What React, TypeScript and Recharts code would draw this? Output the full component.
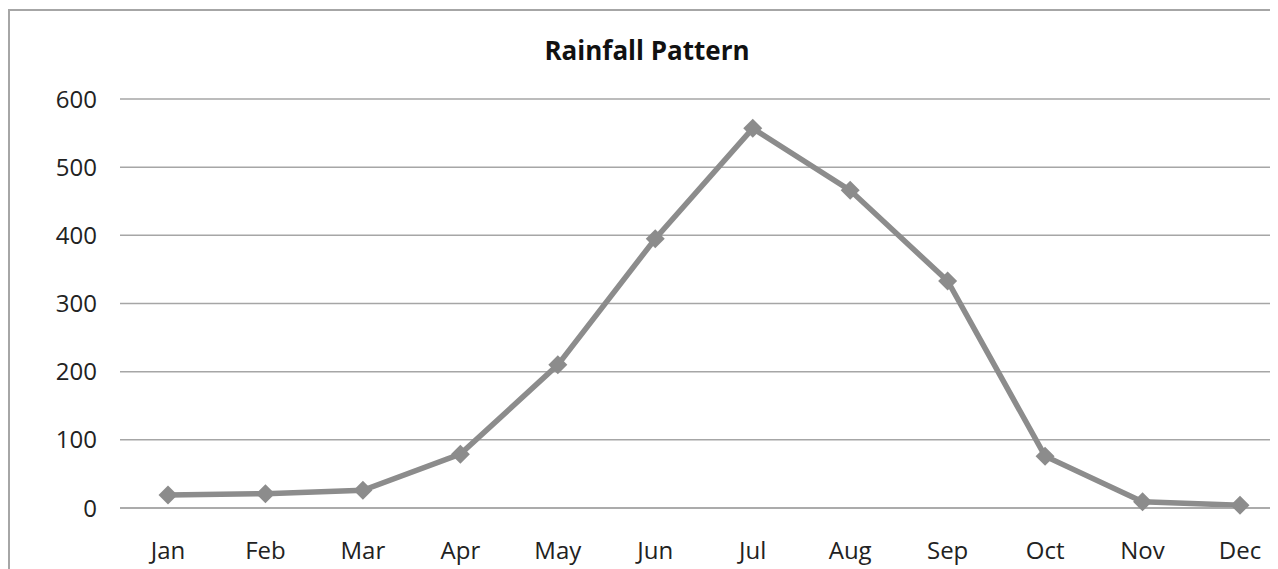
import { LineChart, Line, XAxis, YAxis, CartesianGrid } from "recharts";

const months = ["Jan", "Feb", "Mar", "Apr", "May", "Jun", "Jul", "Aug", "Sep", "Oct", "Nov", "Dec"];
const rainfall = [19, 21, 26, 79, 210, 395, 557, 466, 333, 76, 9, 4];
const yTicks = [0, 100, 200, 300, 400, 500, 600];

const data = months.map((m, i) => ({ month: m, rain: rainfall[i] }));

const FONT = "'Open Sans', sans-serif";

function Diamond(props: any) {
  const { cx, cy } = props;
  if (cx == null || cy == null) return null;
  const r = 9.5;
  return (
    <polygon
      points={`${cx},${cy - r} ${cx + r},${cy} ${cx},${cy + r} ${cx - r},${cy}`}
      fill="#8c8c8c"
    />
  );
}

export default function App() {
  return (
    <div style={{ position: "relative", width: 1270, height: 561, overflow: "hidden", background: "#fff" }}>
      <div
        style={{
          position: "absolute",
          left: 0,
          top: 1,
          width: 1400,
          height: 700,
          borderLeft: "2px solid #a6a6a6",
          borderTop: "2px solid #a6a6a6",
        }}
      />
      <div
        style={{
          position: "absolute",
          left: 0,
          top: 24,
          width: 1278,
          textAlign: "center",
          fontFamily: FONT,
          fontWeight: 700,
          fontSize: 26,
          color: "#111",
        }}
      >
        Rainfall Pattern
      </div>
      <div style={{ position: "absolute", left: 0, top: 0 }}>
        <LineChart width={1290} height={561} data={data} margin={{ top: 91, right: 10, bottom: 0, left: 0 }}>
          <CartesianGrid vertical={false} stroke="#a6a6a6" strokeWidth={1.5} />
          <XAxis
            dataKey="month"
            axisLine={{ stroke: "#a6a6a6", strokeWidth: 1.5 }}
            tickLine={false}
            tickMargin={28}
            height={61}
            padding={{ left: 48, right: 48 }}
            tick={{ fill: "#222", fontSize: 24, fontFamily: FONT }}
          />
          <YAxis
            domain={[0, 600]}
            ticks={yTicks}
            axisLine={false}
            tickLine={false}
            tickMargin={17}
            width={112}
            tick={{ fill: "#222", fontSize: 24, fontFamily: FONT }}
          />
          <Line
            type="linear"
            dataKey="rain"
            stroke="#8c8c8c"
            strokeWidth={5.5}
            dot={<Diamond />}
            activeDot={false}
            isAnimationActive={false}
          />
        </LineChart>
      </div>
    </div>
  );
}
